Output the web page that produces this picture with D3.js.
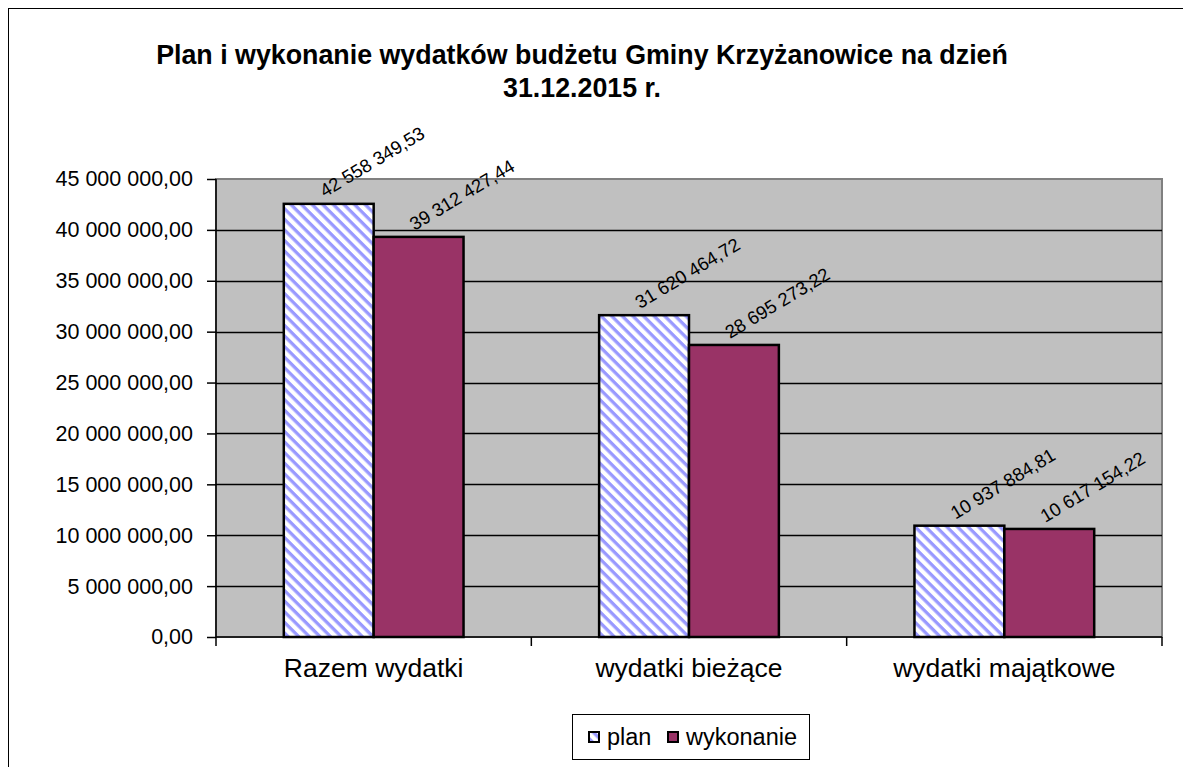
<!DOCTYPE html>
<html>
<head>
<meta charset="utf-8">
<script src="https://cdn.jsdelivr.net/npm/d3@7"></script>
<style>
  body { margin: 0; background: #fff; }
  text { font-family: Arial, "Liberation Sans", sans-serif; }
</style>
</head>
<body>
<script>
var w = 1183,
    h = 767;

var categories = ["Razem wydatki", "wydatki bieżące", "wydatki majątkowe"];
var seriesNames = ["plan", "wykonanie"];
var planValues = [42558349.53, 31620464.72, 10937884.81];
var wykonanieValues = [39312427.44, 28695273.22, 10617154.22];
var yTicks = [0, 5000000, 10000000, 15000000, 20000000, 25000000, 30000000, 35000000, 40000000, 45000000];
var titleLines = ["Plan i wykonanie wydatków budżetu Gminy Krzyżanowice na dzień", "31.12.2015 r."];

var plot = {left: 216, right: 1162, top: 179, bottom: 637};

var pl = d3.formatLocale({decimal: ",", thousands: " ", grouping: [3], currency: ["", ""]});
var fmt = pl.format(",.2f");

var svg = d3.select("body").append("svg")
    .attr("width", w)
    .attr("height", h);

// stripes for "plan" (running down to the right)
var defs = svg.append("defs");
var pat = defs.append("pattern")
    .attr("id", "stripes")
    .attr("patternUnits", "userSpaceOnUse")
    .attr("width", 7.5)
    .attr("height", 7.5)
    .attr("patternTransform", "rotate(45)");
pat.append("rect").attr("width", 7.5).attr("height", 7.5).attr("fill", "#fff");
pat.append("rect").attr("width", 7.5).attr("height", 3.3).attr("fill", "#9999ff");

var colors = {plan: "url(#stripes)", wykonanie: "#993366"};

// outer chart border
svg.append("rect")
    .attr("x", 8.5).attr("y", 8.5)
    .attr("width", w + 20).attr("height", h + 20)
    .attr("fill", "#fff")
    .attr("stroke", "#000")
    .attr("stroke-width", 1);

// title
svg.append("text")
    .attr("x", 579)
    .attr("y", 64)
    .attr("text-anchor", "middle")
    .attr("font-size", 26.8)
    .attr("font-weight", "bold")
    .selectAll("tspan")
    .data(titleLines)
    .enter()
    .append("tspan")
    .attr("x", 582)
    .attr("dy", function(d, i) { return i === 0 ? 0 : 33; })
    .text(function(d) { return d; });

var x0 = d3.scaleBand()
    .domain(categories)
    .range([plot.left, plot.right]);

var x1 = d3.scaleBand()
    .domain(seriesNames)
    .range([x0.bandwidth() * 0.215, x0.bandwidth() * 0.785]);

var y = d3.scaleLinear()
    .domain([0, 45000000])
    .range([plot.bottom, plot.top]);

// plot area
svg.append("rect")
    .attr("x", plot.left)
    .attr("y", plot.top)
    .attr("width", plot.right - plot.left)
    .attr("height", plot.bottom - plot.top)
    .attr("fill", "#c0c0c0")
    .attr("stroke", "#808080")
    .attr("stroke-width", 2);

// gridlines
svg.selectAll("line.grid")
    .data(yTicks.slice(1, -1))
    .enter()
    .append("line")
    .attr("class", "grid")
    .attr("x1", plot.left)
    .attr("x2", plot.right)
    .attr("y1", function(d) { return Math.round(y(d)) + 0.5; })
    .attr("y2", function(d) { return Math.round(y(d)) + 0.5; })
    .attr("stroke", "#000")
    .attr("stroke-width", 1.3);

// y axis
var yAxis = d3.axisLeft(y)
    .tickValues(yTicks)
    .tickSize(9)
    .tickPadding(14)
    .tickFormat(function(d) { return fmt(d); });

var gy = svg.append("g")
    .attr("transform", "translate(" + plot.left + ",0)")
    .call(yAxis);
gy.select(".domain").attr("d", "M0," + plot.top + "V" + (plot.bottom + 9)).attr("stroke-width", 1.5);
gy.selectAll(".tick line").attr("stroke-width", 1.5);
gy.selectAll("text")
    .attr("font-size", 21.5)
    .attr("font-family", "Arial, 'Liberation Sans', sans-serif")
    .attr("fill", "#000");

// x axis
var gx = svg.append("g")
    .attr("transform", "translate(0," + plot.bottom + ")");
gx.append("line")
    .attr("x1", plot.left).attr("x2", plot.right)
    .attr("y1", 0).attr("y2", 0)
    .attr("stroke", "#000")
    .attr("stroke-width", 1.5);
gx.selectAll("line.tick")
    .data(categories)
    .enter()
    .append("line")
    .attr("class", "tick")
    .attr("x1", function(d) { return x0(d) + x0.bandwidth(); })
    .attr("x2", function(d) { return x0(d) + x0.bandwidth(); })
    .attr("y1", 0).attr("y2", 9)
    .attr("stroke", "#000")
    .attr("stroke-width", 1.5);
gx.selectAll("text")
    .data(categories)
    .enter()
    .append("text")
    .attr("x", function(d) { return x0(d) + x0.bandwidth() / 2; })
    .attr("y", 40)
    .attr("text-anchor", "middle")
    .attr("font-size", 26.5)
    .text(function(d) { return d; });

// bars
var rows = categories.map(function(c, i) {
  return {cat: c, values: [
    {key: "plan", value: planValues[i]},
    {key: "wykonanie", value: wykonanieValues[i]}
  ]};
});

var groups = svg.selectAll("g.group")
    .data(rows)
    .enter()
    .append("g")
    .attr("class", "group")
    .attr("transform", function(d) { return "translate(" + x0(d.cat) + ",0)"; });

groups.selectAll("rect")
    .data(function(d) { return d.values; })
    .enter()
    .append("rect")
    .attr("x", function(d) { return x1(d.key); })
    .attr("y", function(d) { return y(d.value); })
    .attr("width", x1.bandwidth())
    .attr("height", function(d) { return plot.bottom - y(d.value); })
    .attr("fill", function(d) { return colors[d.key]; })
    .attr("stroke", "#000")
    .attr("stroke-width", 2.5);

// value labels
groups.selectAll("text")
    .data(function(d) { return d.values; })
    .enter()
    .append("text")
    .attr("transform", function(d) {
      var cx = x1(d.key) + x1.bandwidth() / 2 - 4;
      var cy = y(d.value) - 6;
      return "translate(" + cx + "," + cy + ") rotate(-31)";
    })
    .attr("font-size", 18.5)
    .attr("fill", "#000")
    .text(function(d) { return fmt(d.value); });

// legend
var legend = svg.append("g").attr("transform", "translate(572,714)");
legend.append("rect")
    .attr("x", 0.5).attr("y", 0.5)
    .attr("width", 237).attr("height", 45)
    .attr("fill", "#fff")
    .attr("stroke", "#000")
    .attr("stroke-width", 1);

var legendX = [16, 95];
var items = legend.selectAll("g.item")
    .data(seriesNames)
    .enter()
    .append("g")
    .attr("class", "item")
    .attr("transform", function(d, i) { return "translate(" + legendX[i] + ",0)"; });
items.append("rect")
    .attr("x", 1).attr("y", 18)
    .attr("width", 10).attr("height", 10)
    .attr("fill", function(d) { return colors[d]; })
    .attr("stroke", "#000")
    .attr("stroke-width", 2);
items.append("text")
    .attr("x", 19)
    .attr("y", 31)
    .attr("font-size", 23.5)
    .text(function(d) { return d; });
</script>
</body>
</html>
